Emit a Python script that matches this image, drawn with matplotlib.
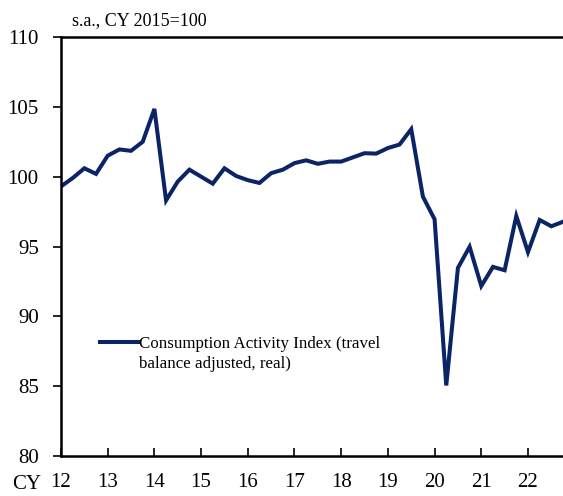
import matplotlib
matplotlib.use("Agg")
import matplotlib.pyplot as plt
import numpy as np

plt.rcParams['font.family'] = ['Liberation Serif', 'DejaVu Serif']

# Quarterly data, CY2012 Q1 .. CY2022 Q4
start_year = 12
values = [99.3, 99.9, 100.6, 100.2,
          101.5, 101.95, 101.85, 102.5,
          104.85, 98.3, 99.65, 100.5,
          100.0, 99.5, 100.6, 100.05,
          99.75, 99.55, 100.25, 100.5,
          100.97, 101.17, 100.92, 101.08,
          101.08, 101.38, 101.68, 101.65,
          102.05, 102.3, 103.4, 98.57,
          96.95, 85.05, 93.47, 94.98,
          92.17, 93.54, 93.3, 97.18,
          94.6, 96.9, 96.45, 96.77]
year_ticks = [12, 13, 14, 15, 16, 17, 18, 19, 20, 21, 22]
year_labels = ['12', '13', '14', '15', '16', '17', '18', '19', '20', '21', '22']
y_ticks = [80, 85, 90, 95, 100, 105, 110]
series_label = "Consumption Activity Index (travel\nbalance adjusted, real)"
unit_text = "s.a., CY 2015=100"

x = start_year + np.arange(len(values)) * 0.25

fig = plt.figure(figsize=(5.63, 4.96), dpi=100)
ax = fig.add_axes([61/563, 1 - 456/496, 1 - 61/563, (456 - 37)/496])

line, = ax.plot(x, values, color='#0b2466', lw=2.9, solid_joinstyle='miter')

ax.set_xlim(12, 22.75)
ax.set_ylim(80, 110)
ax.set_yticks(y_ticks)
ax.set_yticklabels([str(v) for v in y_ticks])
ax.set_xticks(year_ticks)
ax.set_xticklabels(year_labels)

ax.tick_params(axis='y', direction='out', length=6, width=1.2, pad=10, labelsize=15)
ax.tick_params(axis='x', direction='in', length=6, width=1.2, pad=12, labelsize=15)
for s in ax.spines.values():
    s.set_linewidth(1.8)
    s.set_color('black')
ax.spines['right'].set_visible(False)

ax.text(-20/502, -0.067, "CY", transform=ax.transAxes, ha='right', va='center', fontsize=15)
fig.text(72/563, 1 - 21/496, unit_text, ha='left', va='center', fontsize=13)

leg = ax.legend([line], [series_label], loc='upper left',
                bbox_to_anchor=((100 - 61)/502, 1 - (336 - 37)/419),
                frameon=False, fontsize=12.2, handlelength=2.25, handletextpad=0.05,
                borderaxespad=0, borderpad=0)
for t in leg.get_texts():
    t.set_linespacing(1.35)
for col in leg._legend_handle_box.get_children():
    for hp in col.get_children():
        hp.align = 'top'

fig.savefig('out.png', dpi=100)
